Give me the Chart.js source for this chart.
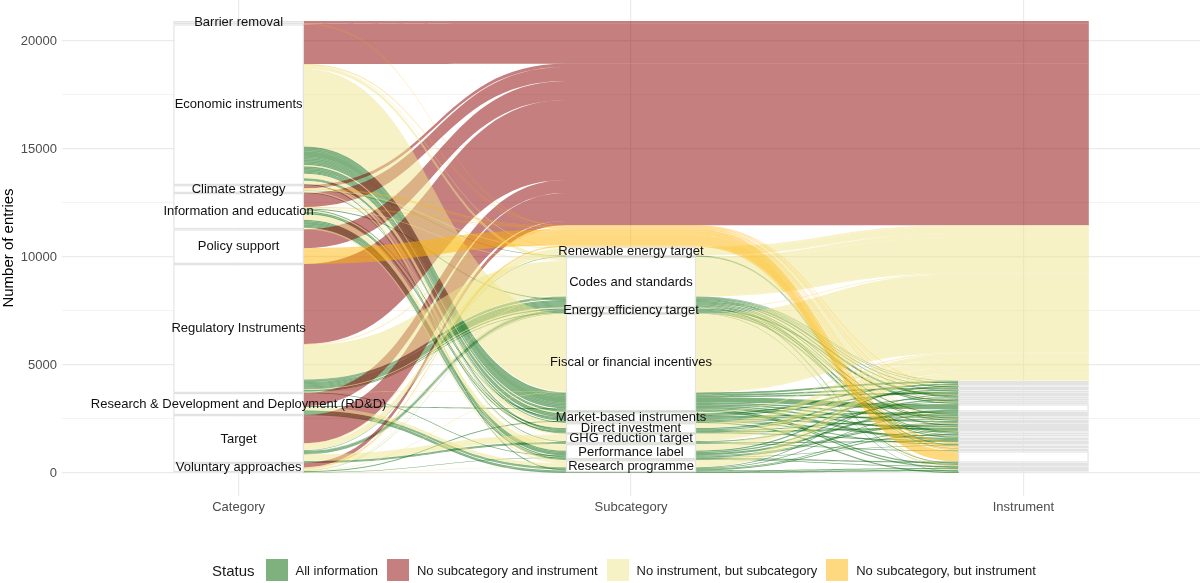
<!DOCTYPE html>
<html>
<head>
<meta charset="utf-8">
<script src="https://cdn.jsdelivr.net/npm/chart.js@4.4.1/dist/chart.umd.min.js"></script>
<style>
  body { margin: 0; background: #fff; }
  #wrap { position: relative; width: 1200px; height: 583px; }
  #legend { position: absolute; left: 212px; top: 559px; display: flex; align-items: center;
            font-family: "Liberation Sans", Arial, sans-serif; color: #1a1a1a; font-size: 13px; }
  #legend .title { font-size: 15px; margin-right: 11px; }
  #legend .key { width: 22px; height: 22px; margin-right: 8px; }
  #legend .lab { margin-right: 9px; }
</style>
</head>
<body>
<div id="wrap">
  <canvas id="alluvial" width="1200" height="583"></canvas>
  <div id="legend"></div>
</div>
<script>
const categories = ["Barrier removal", "Economic instruments", "Climate strategy", "Information and education",
  "Policy support", "Regulatory Instruments", "Research & Development and Deployment (RD&D)", "Target",
  "Voluntary approaches"];
const subcategories = ["Renewable energy target", "Codes and standards", "Energy efficiency target",
  "Fiscal or financial incentives", "Market-based instruments", "Direct investment", "GHG reduction target",
  "Performance label", "Research programme"];
const axisNames = ["Category", "Subcategory", "Instrument"];
const instrumentCount = 39;   // unlabelled instrument strata, numbered 1..39 from the top

const statusNames = ["All information", "No subcategory and instrument", "No instrument, but subcategory",
  "No subcategory, but instrument"];
const statusColors = ["rgba(0,100,0,0.5)", "rgba(139,0,0,0.5)", "rgba(240,230,140,0.5)", "rgba(255,180,0,0.5)"];

const yTicks = [0, 2500, 5000, 7500, 10000, 12500, 15000, 17500, 20000];
const yLabelled = [0, 5000, 10000, 15000, 20000];

// [category, subcategory, instrument, entries]
const allInfo = [
  [1,3,1,80],[1,3,4,70],[1,3,7,70],[1,3,13,250],[1,3,15,60],[1,3,19,70],[1,3,23,70],[1,3,28,60],[1,3,35,60],[1,3,37,60],
  [1,4,2,70],[1,4,6,60],[1,4,14,60],[1,4,21,60],[1,4,26,50],[1,4,39,50],
  [1,5,9,40],[1,5,17,40],[1,5,29,40],
  [1,8,25,50],
  [2,6,11,40],[2,0,31,30],
  [3,7,3,60],[3,7,10,60],[3,7,13,100],[3,7,20,60],[3,7,34,60],[3,7,36,40],
  [3,5,5,60],[3,5,22,70],
  [3,4,16,50],
  [3,1,8,40],
  [5,1,1,20],[5,1,2,30],[5,1,4,30],[5,1,6,40],[5,1,9,50],[5,1,12,60],[5,1,15,40],[5,1,18,50],[5,1,24,60],[5,1,27,40],[5,1,35,40],
  [5,2,11,50],[5,2,26,30],
  [5,7,19,40],
  [6,8,7,30],[6,8,14,40],[6,8,23,30],[6,8,37,50],[6,8,38,70],
  [6,3,28,50],
  [7,2,10,20],[7,2,17,40],[7,2,21,40],[7,2,25,40],[7,2,39,30],
  [7,6,12,20],[7,6,29,40],[7,6,33,40],
  [7,0,32,30],
  [8,4,30,50],
  [8,7,31,20],
  [8,1,36,10]
];
// [category, entries]
const noSubNoInst = [[0,125],[1,1850],[2,150],[3,650],[4,880],[5,3700],[6,600],[7,1300],[8,200]];
// [category, subcategory, entries]
const subNoInst = [
  [1,0,40],[1,1,150],[1,3,3600],[1,4,60],[1,5,200],[1,7,50],[1,8,100],
  [2,0,40],[2,6,50],
  [3,1,40],[3,5,40],[3,7,250],[3,8,60],
  [5,1,1600],[5,2,30],[5,3,20],
  [6,8,150],
  [7,0,300],[7,6,300],
  [8,0,20],[8,1,50],[8,3,30],[8,8,20]
];
// [category, instrument, entries]
const noSubWithInst = [
  [0,5,15],[1,3,15],[1,20,15],[2,8,20],[2,16,20],[2,27,20],[3,12,15],[3,24,15],
  [4,30,80],[4,32,100],[4,33,80],[4,34,480],[5,10,20],[5,22,20],[7,18,20],[8,36,30],[8,38,30]
];

const NONE = -1;
const alluvia = [];
allInfo.forEach(([c, s, i, n]) => alluvia.push({ cat: c, sub: s, inst: i, n, status: 0, pos: [] }));
noSubNoInst.forEach(([c, n]) => alluvia.push({ cat: c, sub: NONE, inst: NONE, n, status: 1, pos: [] }));
subNoInst.forEach(([c, s, n]) => alluvia.push({ cat: c, sub: s, inst: NONE, n, status: 2, pos: [] }));
noSubWithInst.forEach(([c, i, n]) => alluvia.push({ cat: c, sub: NONE, inst: i, n, status: 3, pos: [] }));

const total = alluvia.reduce((t, a) => t + a.n, 0);

// stack the strata of one axis from the top, lodes sorted by the other axes
function stack(axis, field, strata, keys) {
  let top = total;
  const boxes = [];
  strata.forEach(s => {
    const start = top;
    alluvia.filter(a => a[field] === s)
      .sort((a, b) => (a[keys[0]] - b[keys[0]]) || (a[keys[1]] - b[keys[1]]))
      .forEach(a => { a.pos[axis] = [top - a.n, top]; top -= a.n; });
    boxes.push({ stratum: s, lo: top, hi: start });
  });
  return boxes.filter(b => b.stratum !== NONE);
}

const instIds = Array.from({ length: instrumentCount }, (_, i) => i + 1);
const catBoxes = stack(0, "cat", categories.map((_, i) => i), ["sub", "inst"]);
const subBoxes = stack(1, "sub", [NONE].concat(subcategories.map((_, i) => i)), ["inst", "cat"]);
const instBoxes = stack(2, "inst", [NONE].concat(instIds), ["sub", "cat"]);

const stratumWidth = 1 / 3;

const flowPlugin = {
  id: "flows",
  beforeDatasetsDraw(chart) {
    const ctx = chart.ctx, xs = chart.scales.x, ys = chart.scales.y;
    const px = v => xs.getPixelForValue(v), py = v => ys.getPixelForValue(v);
    const curve = (x0, y0, x1, y1) => {
      const d = (x1 - x0) * 0.5;
      ctx.bezierCurveTo(x0 + d, y0, x1 - d, y1, x1, y1);
    };
    ctx.save();
    alluvia.forEach(a => {
      const L = k => px(k + 1 - stratumWidth / 2), R = k => px(k + 1 + stratumWidth / 2);
      // ends that sit under a stratum box stop just inside its edge
      const x0 = R(0) - 1, x3 = a.inst === NONE ? R(2) : L(2) + 1;
      const hi = a.pos.map(p => py(p[1])), lo = a.pos.map(p => py(p[0]));
      ctx.beginPath();
      ctx.moveTo(x0, hi[0]);
      ctx.lineTo(R(0), hi[0]);
      curve(R(0), hi[0], L(1), hi[1]);
      ctx.lineTo(R(1), hi[1]);
      curve(R(1), hi[1], L(2), hi[2]);
      ctx.lineTo(x3, hi[2]);
      ctx.lineTo(x3, lo[2]);
      ctx.lineTo(L(2), lo[2]);
      curve(L(2), lo[2], R(1), lo[1]);
      ctx.lineTo(L(1), lo[1]);
      curve(L(1), lo[1], R(0), lo[0]);
      ctx.lineTo(x0, lo[0]);
      ctx.closePath();
      ctx.fillStyle = statusColors[a.status];
      ctx.fill();
    });
    ctx.restore();
  },
  afterDatasetsDraw(chart) {
    const ctx = chart.ctx;
    ctx.save();
    ctx.font = '13px "Liberation Sans", Arial, sans-serif';
    ctx.fillStyle = "#111";
    ctx.textAlign = "center";
    ctx.textBaseline = "middle";
    [categories, subcategories].forEach((names, d) => {
      chart.getDatasetMeta(d).data.forEach((el, i) => {
        ctx.fillText(names[i], el.x, (el.y + el.base) / 2);
      });
    });
    ctx.restore();
  }
};

const strataStyle = {
  type: "bar", backgroundColor: "#ffffff", borderColor: "#e3e3e3", borderWidth: 1.5,
  borderSkipped: false, grouped: false, categoryPercentage: 1, barPercentage: stratumWidth
};

Chart.defaults.font.family = '"Liberation Sans", Arial, sans-serif';

new Chart(document.getElementById("alluvial"), {
  type: "bar",
  data: {
    datasets: [
      Object.assign({ data: catBoxes.map(b => ({ x: 1, y: [b.lo, b.hi] })) }, strataStyle),
      Object.assign({ data: subBoxes.map(b => ({ x: 2, y: [b.lo, b.hi] })) }, strataStyle),
      Object.assign({ data: instBoxes.map(b => ({ x: 3, y: [b.lo, b.hi] })) }, strataStyle)
    ]
  },
  options: {
    responsive: false,
    animation: false,
    layout: { padding: 0 },
    plugins: { legend: { display: false }, tooltip: { enabled: false } },
    scales: {
      x: {
        type: "linear", min: 0.55, max: 3.45, offset: false,
        afterBuildTicks: s => { s.ticks = axisNames.map((_, i) => ({ value: i + 1 })); },
        afterFit: s => { s.height = 87; s.paddingLeft = 0; s.paddingRight = 0; },
        ticks: { callback: v => axisNames[v - 1], color: "#4d4d4d", font: { size: 13 }, padding: 4, maxRotation: 0 },
        grid: { color: "#ebebeb", lineWidth: 1.2, drawTicks: false, offset: false },
        border: { display: false }
      },
      y: {
        type: "linear", min: -1065, max: 21898,
        afterBuildTicks: s => { s.ticks = yTicks.map(v => ({ value: v })); },
        afterFit: s => { s.width = 62; s.paddingTop = 0; s.paddingBottom = 0; },
        ticks: { callback: v => yLabelled.includes(v) ? String(v) : "", color: "#4d4d4d", font: { size: 13 }, padding: 5 },
        grid: {
          color: "#ebebeb", drawTicks: false,
          lineWidth: c => (c.tick && yLabelled.includes(c.tick.value)) ? 1.2 : 0.6
        },
        border: { display: false },
        title: { display: true, text: "Number of entries", color: "#000", font: { size: 15 }, padding: 0 }
      }
    }
  },
  plugins: [flowPlugin]
});

const legend = document.getElementById("legend");
legend.innerHTML = '<span class="title">Status</span>' + statusNames.map((s, i) =>
  '<span class="key" style="background:' + statusColors[i] + '"></span><span class="lab">' + s + '</span>').join("");
</script>
</body>
</html>
